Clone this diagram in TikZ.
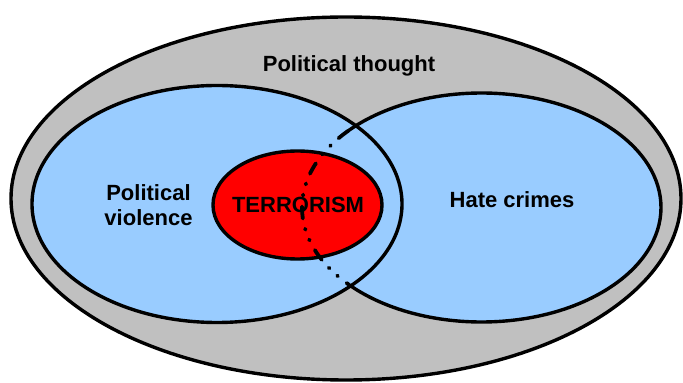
\documentclass[tikz,border=0pt]{standalone}
\usepackage{fontspec}
\setmainfont{Liberation Sans}
\usetikzlibrary{calc}
\definecolor{outergray}{HTML}{C0C0C0}
\definecolor{setblue}{HTML}{99CCFF}
\definecolor{terrred}{HTML}{FF0000}
\begin{document}
\begin{tikzpicture}[x=1pt,y=1pt,
  rim/.style={line width=3.4pt, draw=black},
  dotarc/.style={line width=3.8pt, line cap=round, dash pattern=on 12pt off 10.5pt on 1pt off 10.5pt on 1pt off 11pt},
  lbl/.style={font=\fontsize{22}{25}\selectfont\bfseries, align=center, inner sep=0pt}]
\useasboundingbox (0,0) rectangle (683,383);
% centres
\coordinate (co) at (346,184.5);
\coordinate (cl) at (217,179);
\coordinate (cr) at (481.5,175.5);
\coordinate (ct) at (297.5,178);
% outer set
\fill[outergray] (co) ellipse [x radius=335, y radius=181.5];
\draw[rim] (co) ellipse [x radius=335, y radius=181.5];
% two sets
\fill[setblue] (cl) ellipse [x radius=185, y radius=118.5];
\fill[setblue] (cr) ellipse [x radius=179.5, y radius=114.5];
\draw[rim] (cl) ellipse [x radius=185, y radius=118.5];
\draw[rim] ($(cr)+(222:179.5 and 114.5)$) coordinate (rb)
  arc [start angle=222, end angle=498, x radius=179.5, y radius=114.5] coordinate (rt);
% terrorism
\fill[terrred] (ct) ellipse [x radius=84.5, y radius=54];
\draw[rim] (ct) ellipse [x radius=84.5, y radius=54];
% dotted border of hate crimes inside political violence
\draw[dotarc] (rt) arc [start angle=138, end angle=222, x radius=179.5, y radius=114.5];
% labels
\node[lbl] (pt) at (349,317) {Political thought};
\node[lbl] (pv) at (148.5,178) {Political\\violence};
\node[lbl] (hc) at (512,183) {Hate crimes};
\node[lbl] (te) at (298,178) {TERRORISM};
\end{tikzpicture}
\end{document}
